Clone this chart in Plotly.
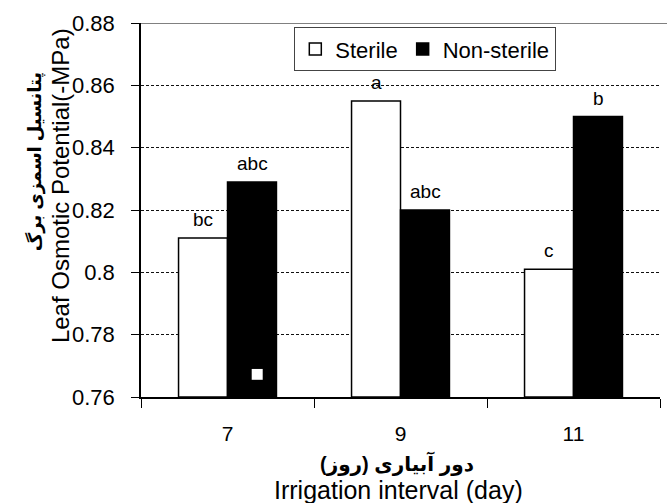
import plotly.graph_objects as go

categories = ["7", "9", "11"]
sterile = [0.811, 0.855, 0.801]
non_sterile = [0.829, 0.820, 0.850]
sterile_letters = ["bc", "a", "c"]
non_sterile_letters = ["abc", "abc", "b"]
y_ticks = [0.76, 0.78, 0.80, 0.82, 0.84, 0.86, 0.88]
y_tick_labels = ["0.76", "0.78", "0.8", "0.82", "0.84", "0.86", "0.88"]
y_title_fa = "پتانسیل اسمزی برگ"
y_title_en = "Leaf Osmotic Potential(-MPa)"
x_title_fa = "دور آبیاری (روز)"
x_title_en = "Irrigation interval (day)"

font_main = "Liberation Sans, Arial, DejaVu Sans, sans-serif"
base = 0.76

fig = go.Figure()
fig.add_trace(go.Bar(
    name="Sterile", x=categories, y=[v - base for v in sterile], base=base,
    marker=dict(color="white", line=dict(color="black", width=1.5)),
))
fig.add_trace(go.Bar(
    name="Non-sterile", x=categories, y=[v - base for v in non_sterile], base=base,
    marker=dict(color="black", line=dict(color="black", width=1.5)),
))

# significance letters above each bar (x given as category index)
for i, (val, lab) in enumerate(zip(sterile, sterile_letters)):
    fig.add_annotation(x=i, y=val, text=lab, showarrow=False, yanchor="bottom",
                       xshift=-24.5, yshift=6, font=dict(size=19, color="black"))
for i, (val, lab) in enumerate(zip(non_sterile, non_sterile_letters)):
    fig.add_annotation(x=i, y=val, text=lab, showarrow=False, yanchor="bottom",
                       xshift=24.5, yshift=6, font=dict(size=19, color="black"))

# y-axis titles (two rotated lines)
fig.add_annotation(xref="paper", yref="paper", x=-0.156, y=0.564, text=y_title_en,
                   textangle=-90, showarrow=False, xanchor="center", yanchor="middle",
                   font=dict(size=24, color="black"))
fig.add_annotation(xref="paper", yref="paper", x=-0.204, y=0.628, text="<b>" + y_title_fa + "</b>",
                   textangle=-90, showarrow=False, xanchor="center", yanchor="middle",
                   font=dict(size=18, color="black"))
# x-axis titles (two lines)
fig.add_annotation(xref="paper", yref="paper", x=0.4933, y=-0.179, text="<b>" + x_title_fa + "</b>",
                   showarrow=False, xanchor="center", yanchor="middle",
                   font=dict(size=20, color="black"))
fig.add_annotation(xref="paper", yref="paper", x=0.4952, y=-0.2487, text=x_title_en,
                   showarrow=False, xanchor="center", yanchor="middle",
                   font=dict(size=25, color="black"))

fig.update_layout(
    width=667, height=503,
    margin=dict(l=141, r=7, t=23, b=106),
    paper_bgcolor="white", plot_bgcolor="white",
    barmode="group", bargap=0.434, bargroupgap=0,
    font=dict(family=font_main, size=20, color="black"),
    showlegend=True,
    legend=dict(
        orientation="h", x=0.295, y=0.989, xanchor="left", yanchor="top",
        bgcolor="white", bordercolor="#444", borderwidth=1.2,
        font=dict(size=22, family=font_main), itemwidth=30,
        traceorder="normal",
    ),
)
fig.update_xaxes(
    type="category", range=[-0.5, 2.5], autorange=False,
    showline=True, linecolor="black", linewidth=1.5,
    ticks="outside", ticklen=9, tickcolor="black", tickson="boundaries",
    ticklabelstandoff=17,
    showgrid=False, tickfont=dict(size=21), automargin=False,
)
fig.update_yaxes(
    range=[0.76, 0.88], autorange=False, tickvals=y_ticks, ticktext=y_tick_labels,
    showline=True, linecolor="black", linewidth=1.5,
    ticks="outside", ticklen=8, tickcolor="black", ticklabelstandoff=12,
    showgrid=True, gridcolor="#111", gridwidth=1, griddash="3px,2px",
    zeroline=False, tickfont=dict(size=22), automargin=False,
)
# top border line of the plot area
fig.add_shape(type="line", xref="paper", yref="y", x0=0, x1=1.02, y0=0.88, y1=0.88,
              line=dict(color="#808080", width=2), layer="above")
# small white square artefact inside the first black bar
fig.add_shape(type="rect", xref="paper", yref="paper", x0=0.2133, x1=0.2345,
              y0=0.046, y1=0.075, fillcolor="white", line=dict(width=0), layer="above")

fig.write_html("out.html", config={"displayModeBar": False},
               post_script="document.body.style.margin='0';document.body.style.padding='0';document.body.style.overflow='hidden';")
